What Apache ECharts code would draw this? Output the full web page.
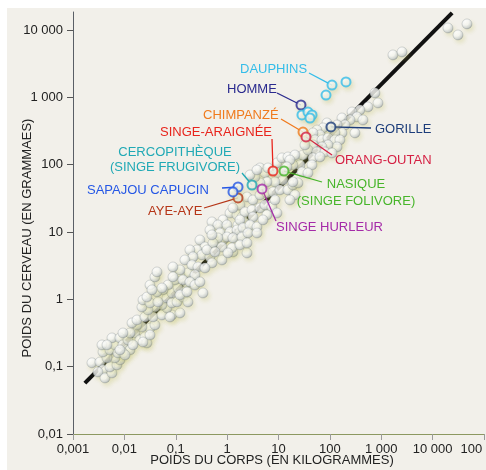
<!DOCTYPE html>
<html><head><meta charset="utf-8">
<script src="https://cdn.jsdelivr.net/npm/echarts@6/dist/echarts.min.js"></script>
<style>html,body{margin:0;padding:0;background:#fff}#c{width:486px;height:470px}</style>
</head><body><div id="c"></div>
<script>
// ---------- DATA ----------
const xTickValues = [0.001, 0.01, 0.1, 1, 10, 100, 1000, 10000, 100000];
const xTickLabels = ['0,001', '0,01', '0,1', '1', '10', '100', '1 000', '10 000', '100 000'];
const yTickValues = [0.01, 0.1, 1, 10, 100, 1000, 10000];
const yTickLabels = ['0,01', '0,1', '1', '10', '100', '1 000', '10 000'];
const xTitle = 'POIDS DU CORPS (EN KILOGRAMMES)';
const yTitle = 'POIDS DU CERVEAU (EN GRAMMAES)';

// background species (body mass kg, brain mass g)
const bodyMassKg = [
 0.00234,0.00335,0.00384,0.00307,0.0042,0.00574,0.00525,0.00718,0.00822,0.00658,
 0.00459,0.00384,0.00367,0.00525,0.00658,0.00574,0.00822,0.0094,0.0118,0.0129,
 0.0094,0.00752,0.0161,0.0201,0.0252,0.0316,0.022,0.0176,0.0275,0.0394,
 0.0103,0.00459,0.00822,0.0147,0.0231,0.0129,0.0094,0.0316,0.0141,0.0176,
 0.0252,0.0361,0.054,0.0845,0.121,0.0676,0.054,0.0394,0.0288,0.022,
 0.0231,0.0316,0.0452,0.0676,0.0845,0.106,0.138,0.173,0.0845,0.111,
 0.166,0.217,0.173,0.121,0.0966,0.0706,0.0565,0.0432,0.0316,0.0394,
 0.0275,0.0773,
 1.14,1.56,1.95,0.832,0.508,0.664,0.995,1.63,2.23,0.464,
 0.726,1.14,1.78,0.581,0.832,0.296,0.371,0.259,0.189,0.324,
 0.464,0.794,1.30,0.508,0.217,0.151,0.207,0.271,0.371,0.121,
 0.0883,0.237,0.0883,0.138,0.189,0.237,0.0432,0.054,0.121,0.166,
 0.0345,0.296,2.44,0.339,
 4.37,5.46,6.25,9.35,11.7,15.3,22.9,30.0,26.2,19.1,
 9.77,12.2,8.55,5.97,4.37,3.49,2.79,3.82,2.44,3.19,
 4.37,5.97,7.82,10.7,15.3,19.1,24.0,20.9,16.7,1.78,
 1.30,2.23,3.05,4.37,5.46,7.46,8.55,1.78,3.19,5.97,
 9.35,1.56,2.04,2.79,3.82,4.99,0.995,1.30,1.95,2.55,
 3.82,0.664,0.531,0.794,1.24,1.78,2.44,0.406,0.581,1.04,
 0.508,
 755,865,552,385,270,337,441,247,172,197,
 138,308,172,126,87.9,73.5,56.1,64.3,47.0,51.3,
 70.3,92.0,126,157,138,92.0,70.3,47.0,37.5,56.1,
 80.4,110,47.0,64.3,20.9,16.7,44.9,14.6,28.6,37.5,
 19.1,32.8,
 1690,2540,19900,31200,46700
];
const brainMassG = [
 0.114,0.117,0.0893,0.0834,0.0679,0.0805,0.0989,0.106,0.126,0.135,
 0.135,0.165,0.210,0.177,0.210,0.267,0.267,0.210,0.249,0.177,
 0.160,0.160,0.316,0.249,0.276,0.375,0.388,0.416,0.225,0.416,
 0.149,0.210,0.177,0.210,0.232,0.316,0.316,0.295,0.446,0.493,
 0.547,0.547,0.585,0.585,0.627,0.743,0.824,0.769,0.695,0.769,
 0.977,0.883,0.914,1.05,0.883,0.914,1.08,0.914,1.24,1.47,
 1.75,2.07,2.46,2.30,1.94,1.63,1.38,1.29,1.63,2.15,
 1.08,0.547,
 19.1,17.9,16.7,15.1,14.1,12.7,12.7,12.7,13.6,10.7,
 9.66,10.0,9.66,7.11,7.60,7.60,5.98,5.41,5.41,4.56,
 4.26,3.84,5.05,3.47,4.26,3.84,3.24,3.02,2.92,2.73,
 3.02,2.30,2.15,1.94,1.81,1.63,2.55,1.47,1.16,1.29,
 1.38,1.81,4.88,1.24,
 89.3,75.2,89.3,106,126,130,130,139,98.9,98.9,
 75.2,59.2,55.3,55.3,53.5,65.6,70.3,83.4,33.1,29.9,
 35.5,37.9,39.3,42.1,42.1,49.9,53.5,35.5,29.9,25.2,
 22.7,19.8,21.2,22.7,25.2,23.5,29.9,15.1,16.7,17.9,
 19.1,10.7,11.5,12.7,11.9,15.1,8.43,8.15,8.43,9.66,
 9.66,8.15,6.87,5.98,5.79,6.41,6.87,5.41,5.05,4.88,
 9.04,
 1160,824,719,649,605,511,461,461,493,388,
 388,296,296,296,416,351,327,276,296,233,
 233,249,233,233,183,196,183,196,165,154,
 154,149,126,130,139,117,98.9,92.5,77.8,75.2,
 55.3,196,
 4260,4720,10700,8430,12300
];

// labelled species
const speciesNames = ['DAUPHINS','HOMME','CHIMPANZÉ','SINGE-ARAIGNÉE','ORANG-OUTAN','GORILLE',
  'CERCOPITHÈQUE\n(SINGE FRUGIVORE)','SAPAJOU CAPUCIN','AYE-AYE','SINGE HURLEUR','NASIQUE\n(SINGE FOLIVORE)'];
const speciesMassKg = [110, 27.4, 30.0, 7.82, 34.3, 105, 3.05, 1.63, 1.63, 4.78, 12.8];
const speciesBrainG = [1520, 769, 305, 80.5, 258, 363, 49.9, 46.6, 32.0, 43.6, 80.5];
const dolphinMassKg = [206, 84.1, 28.6, 37.5, 44.9, 41.0];
const dolphinBrainG = [1690, 1080, 547, 605, 547, 493];
const capucinMassKg = [1.30];
const capucinBrainG = [39.3];

// allometric trend line end points
const trendMassKg = [0.0017, 24000];
const trendBrainG = [0.057, 18000];

// ---------- STYLE ----------
const FONT = "'Liberation Sans', Arial, Helvetica, sans-serif";
const speciesStyle = [
  {color:'#35bde9', lx:240, ly:[69], align:'left', from:[309,73]},
  {color:'#2a2a8e', lx:227, ly:[89], align:'left', from:[277,93]},
  {color:'#f07a1c', lx:203, ly:[115], align:'left', from:[281,119]},
  {color:'#e8241c', lx:272, ly:[132], align:'right', from:[272,139]},
  {color:'#d51f42', lx:335, ly:[160], align:'left', from:[332,155]},
  {color:'#1d3d7a', lx:375, ly:[129], align:'left', from:[371,128]},
  {color:'#20a9b5', lx:175, ly:[152,167], align:'center', from:[242,173]},
  {color:'#2557e5', lx:87, ly:[190], align:'left', from:[222,188]},
  {color:'#b53517', lx:148, ly:[211], align:'left', from:[204,208]},
  {color:'#a52aa8', lx:276, ly:[227], align:'left', from:[276,221]},
  {color:'#47b52a', lx:356, ly:[184,201], align:'center', from:[322,182]}
];
const shadow = {shadowColor:'rgba(185,185,80,0.3)', shadowBlur:4, shadowOffsetX:2, shadowOffsetY:3};
const sphereStyle = Object.assign({
  color:{type:'radial', x:0.36, y:0.3, r:0.78, colorStops:[
    {offset:0,color:'#ffffff'},{offset:0.4,color:'#f7f8f8'},{offset:0.72,color:'#cdd2d5'},{offset:1,color:'#858c90'}]},
  borderColor:'rgba(110,118,122,0.55)', borderWidth:0.6
}, shadow);
function ringStyle(c){
  return Object.assign({
    color:{type:'radial', x:0.4, y:0.35, r:0.7, colorStops:[{offset:0,color:'#ffffff'},{offset:1,color:'#dde6ea'}]},
    borderColor:c, borderWidth:2
  }, shadow);
}
function fmt(values, labels){
  return function(v){
    for (let i=0;i<values.length;i++){
      if (Math.abs(Math.log10(values[i]) - Math.log10(v)) < 1e-6) return labels[i];
    }
    return '';
  };
}

const bgData = bodyMassKg.map((m,i)=>[m, brainMassG[i]]);
const spData = speciesMassKg.map((m,i)=>({value:[m, speciesBrainG[i]], itemStyle:ringStyle(speciesStyle[i].color)}));
dolphinMassKg.forEach((m,i)=>spData.push({value:[m, dolphinBrainG[i]], itemStyle:ringStyle(speciesStyle[0].color)}));
capucinMassKg.forEach((m,i)=>spData.push({value:[m, capucinBrainG[i]], itemStyle:ringStyle(speciesStyle[7].color)}));

const chart = echarts.init(document.getElementById('c'), null, {renderer:'canvas'});
const option = {
  animation:false,
  backgroundColor:'#f2f0ea',
  grid:{left:73, right:2, top:12, bottom:36, containLabel:false, outerBoundsMode:'none'},
  xAxis:{
    type:'log', logBase:10, min:0.001, max:100000,
    axisLine:{show:true, lineStyle:{color:'#8c9860', width:1}},
    axisTick:{show:true, length:6, inside:false, lineStyle:{color:'#9a9a9a'}, customValues:xTickValues},
    axisLabel:{show:true, color:'#222', fontSize:13, fontFamily:FONT, margin:9, formatter:fmt(xTickValues,xTickLabels), customValues:xTickValues},
    splitLine:{show:false}, minorTick:{show:false}
  },
  yAxis:{
    type:'log', logBase:10, min:0.01, max:18500,
    axisLine:{show:true, lineStyle:{color:'#5a5f66', width:1}},
    axisTick:{show:true, length:6, inside:false, lineStyle:{color:'#555'}, customValues:yTickValues},
    axisLabel:{show:true, color:'#222', fontSize:13, fontFamily:FONT, margin:10, formatter:fmt(yTickValues,yTickLabels), customValues:yTickValues},
    splitLine:{show:false}, minorTick:{show:false}
  },
  series:[
    {type:'line', z:1, data:trendMassKg.map((m,i)=>[m, trendBrainG[i]]), symbol:'none',
     lineStyle:{color:'#111', width:4, cap:'butt'}, silent:true},
    {type:'scatter', z:2, data:bgData, symbol:'circle', symbolSize:10, itemStyle:sphereStyle, silent:true},
    {type:'scatter', z:6, data:spData, symbol:'circle', symbolSize:9, silent:true}
  ]
};
chart.setOption(option);

// annotations: text labels and leader lines
const graphics = [
  {type:'rect', z:0, shape:{x:0,y:0,width:486,height:8}, style:{fill:'#ffffff'}},
  {type:'rect', z:0, shape:{x:0,y:0,width:7,height:470}, style:{fill:'#ffffff'}},
  {type:'text', z:10, x:272, y:460, style:{text:xTitle, fill:'#222', font:'13px ' + FONT, align:'center', verticalAlign:'middle'}},
  {type:'text', z:10, x:27, y:238, rotation:Math.PI/2, style:{text:yTitle, fill:'#222', font:'13px ' + FONT, align:'center', verticalAlign:'middle'}}
];
speciesNames.forEach((name,i)=>{
  const st = speciesStyle[i];
  const p = chart.convertToPixel({xAxisIndex:0, yAxisIndex:0}, [speciesMassKg[i], speciesBrainG[i]]);
  graphics.push({type:'line', z:4, shape:{x1:st.from[0], y1:st.from[1], x2:p[0], y2:p[1]},
    style:{stroke:st.color, lineWidth:1.3}});
  name.split('\n').forEach((line,k)=>{
    graphics.push({type:'text', z:10, x:st.lx, y:st.ly[k],
      style:{text:line, fill:st.color, font:'13px ' + FONT, align:st.align, verticalAlign:'middle'}});
  });
});
chart.setOption({graphic:graphics});
</script>
</body></html>
